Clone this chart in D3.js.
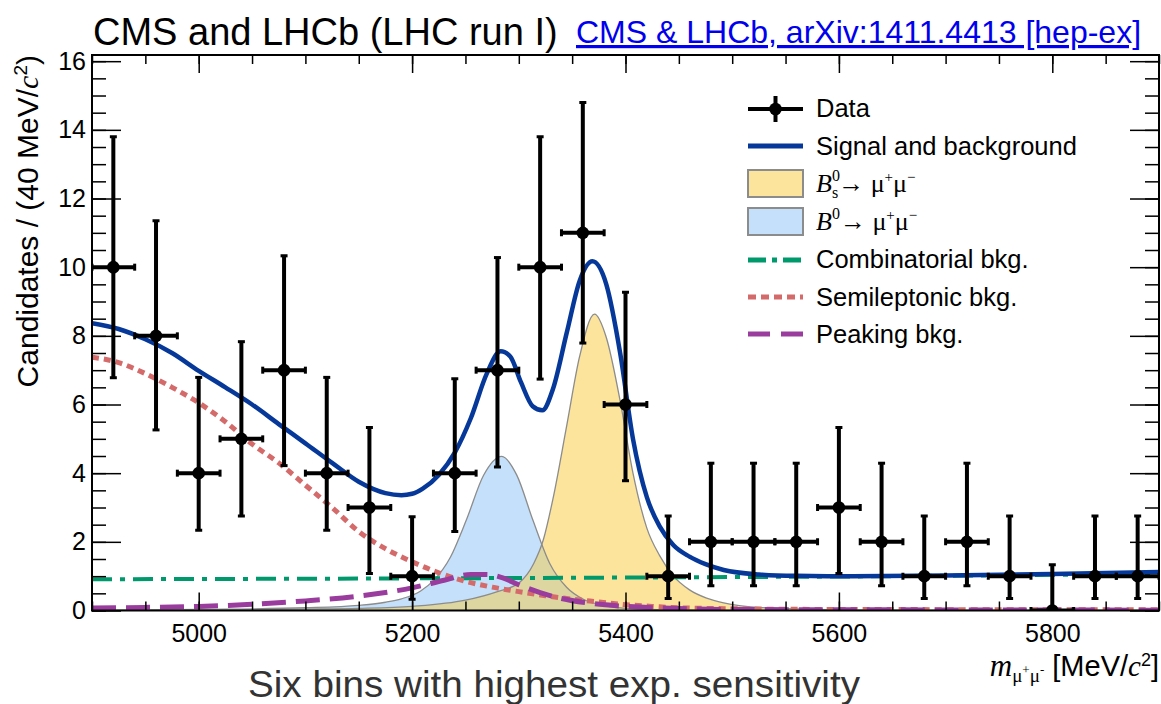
<!DOCTYPE html>
<html>
<head>
<meta charset="utf-8">
<script src="https://cdn.jsdelivr.net/npm/d3@7"></script>
<style>
  body { margin: 0; background: #fff; }
  svg { display: block; font-family: "Liberation Sans", Arial, sans-serif; }
</style>
</head>
<body>
<svg id="chart" width="1161" height="704"></svg>
<script>
// data points (40 MeV bins)
const binCenters = [4920, 4960, 5000, 5040, 5080, 5120, 5160, 5200, 5240, 5280, 5320, 5360, 5400,
    5440, 5480, 5520, 5560, 5600, 5640, 5680, 5720, 5760, 5800, 5840, 5880];
const candidates = [10, 8, 4, 5, 7, 4, 3, 1, 4, 7, 10, 11, 6, 1, 2, 2, 2, 3, 2, 1, 2, 1, 0, 1, 1];
const errLow = [6.78, 5.26, 2.34, 2.75, 4.22, 2.34, 1.08, 0.33, 2.3, 4.18, 6.74, 7.79, 3.78,
    0.35, 0.72, 0.72, 0.72, 1.08, 0.72, 0.35, 0.72, 0.35, 0, 0.35, 0.35];
const errHigh = [13.8, 11.35, 6.79, 7.83, 10.33, 6.79, 5.33, 2.73, 6.75, 10.28, 13.8, 14.8, 9.27,
    2.75, 4.29, 4.29, 4.29, 5.33, 4.29, 2.75, 4.29, 2.75, 1.33, 2.75, 2.75];

// fit curves
const totalMass = [4900, 4925, 4950, 4975, 5000, 5025, 5050, 5075, 5100, 5125, 5150, 5175, 5190, 5200,
    5210, 5225, 5240, 5255, 5270, 5283, 5292, 5302, 5313, 5322, 5332, 5345, 5357, 5369, 5382, 5395,
    5407, 5420, 5432, 5445, 5460, 5475, 5492, 5525, 5560, 5600, 5700, 5800, 5900];
const totalFit = [8.37, 8.2, 7.9, 7.5, 6.98, 6.5, 6.0, 5.43, 4.87, 4.3, 3.75, 3.42, 3.36, 3.4,
    3.55, 3.95, 4.6, 5.6, 6.9, 7.55, 7.4, 6.65, 5.95, 5.83, 6.45, 8.1, 9.6, 10.17, 9.5, 7.5,
    5.0, 3.3, 2.45, 1.9, 1.57, 1.35, 1.18, 1.05, 1.01, 1.0, 1.02, 1.06, 1.12];

const bsMass = [4900, 5000, 5100, 5150, 5200, 5250, 5280, 5300, 5314, 5323, 5332, 5345, 5357, 5371,
    5382, 5395, 5407, 5420, 5432, 5445, 5460, 5476, 5492, 5524, 5600, 5700, 5900];
const bsFit = [0.0, 0.01, 0.04, 0.06, 0.12, 0.3, 0.55, 0.8, 1.37, 2.06, 3.25, 5.4, 7.4, 8.63,
    7.95, 6.1, 4.0, 2.4, 1.6, 1.0, 0.6, 0.36, 0.22, 0.09, 0.02, 0.0, 0.0];

const bdMass = [4900, 5000, 5100, 5150, 5175, 5190, 5208, 5220, 5236, 5251, 5267, 5284, 5298, 5313,
    5329, 5345, 5361, 5376, 5407, 5450, 5500, 5900];
const bdFit = [0.0, 0.03, 0.08, 0.15, 0.24, 0.34, 0.57, 0.87, 1.56, 2.65, 3.94, 4.49, 3.95, 2.65,
    1.37, 0.67, 0.32, 0.17, 0.05, 0.02, 0.0, 0.0];

const combMass = [4900, 5150, 5400, 5650, 5900];
const combFit = [0.91, 0.93, 0.96, 1.0, 1.07];

const semiMass = [4900, 4925, 4950, 4975, 5000, 5025, 5050, 5075, 5100, 5125, 5150, 5175, 5200, 5225,
    5250, 5275, 5300, 5325, 5350, 5375, 5400, 5425, 5450, 5500, 5600, 5900];
const semiFit = [7.38, 7.22, 6.9, 6.5, 6.05, 5.5, 4.85, 4.3, 3.65, 3.0, 2.3, 1.8, 1.42, 1.1,
    0.85, 0.68, 0.55, 0.43, 0.33, 0.25, 0.17, 0.12, 0.08, 0.05, 0.03, 0.02];

const peakMass = [4900, 4950, 5000, 5050, 5100, 5150, 5200, 5230, 5255, 5270, 5285, 5300, 5320, 5340,
    5370, 5400, 5450, 5500, 5900];
const peakFit = [0.07, 0.09, 0.12, 0.18, 0.28, 0.42, 0.66, 0.88, 1.05, 1.05, 0.95, 0.75, 0.52, 0.35,
    0.2, 0.12, 0.06, 0.03, 0.01];

const xMajor = [5000, 5200, 5400, 5600, 5800];
const yMajor = [0, 2, 4, 6, 8, 10, 12, 14, 16];

const svg = d3.select("#chart");
const pL = 92, pR = 1159, pT = 55, pB = 610.5;

const x = d3.scaleLinear().domain([4900, 5900]).range([pL, pR]);
const y = d3.scaleLinear().domain([0, 16.18]).range([pB, pT]);

svg.append("clipPath").attr("id", "plotClip")
    .append("rect").attr("x", pL).attr("y", pT).attr("width", pR - pL).attr("height", pB - pT);

const pairs = (xs, ys) => xs.map((m, i) => [m, ys[i]]);
const line = d3.line().x(d => x(d[0])).y(d => y(d[1])).curve(d3.curveMonotoneX);
const area = d3.area().x(d => x(d[0])).y0(y(0)).y1(d => y(d[1])).curve(d3.curveMonotoneX);

const plot = svg.append("g").attr("clip-path", "url(#plotClip)");

// filled signal shapes
svg.append("clipPath").attr("id", "bdClip")
    .append("path").attr("d", area(pairs(bdMass, bdFit)));
plot.append("path").attr("d", area(pairs(bdMass, bdFit))).attr("fill", "#c4e0fb");
plot.append("path").attr("d", area(pairs(bsMass, bsFit))).attr("fill", "#fde49c");
plot.append("path").attr("d", area(pairs(bsMass, bsFit))).attr("fill", "#ddd6a0")
    .attr("clip-path", "url(#bdClip)");
plot.append("path").attr("d", line(pairs(bdMass, bdFit))).attr("fill", "none")
    .attr("stroke", "#8c8c8c").attr("stroke-width", 1.3);
plot.append("path").attr("d", line(pairs(bsMass, bsFit))).attr("fill", "none")
    .attr("stroke", "#8c8c8c").attr("stroke-width", 1.3);

// background components
plot.append("path").attr("d", line(pairs(combMass, combFit))).attr("fill", "none")
    .attr("stroke", "#00996b").attr("stroke-width", 4).attr("stroke-dasharray", "20,8,5,8");
plot.append("path").attr("d", line(pairs(semiMass, semiFit))).attr("fill", "none")
    .attr("stroke", "#d46a6a").attr("stroke-width", 5).attr("stroke-dasharray", "7,5");
plot.append("path").attr("d", line(pairs(peakMass, peakFit))).attr("fill", "none")
    .attr("stroke", "#9a3c9e").attr("stroke-width", 5).attr("stroke-dasharray", "24,10");
plot.append("path").attr("d", line(pairs(totalMass, totalFit))).attr("fill", "none")
    .attr("stroke", "#06389a").attr("stroke-width", 4.5);

// data with error bars
const pts = binCenters.map((m, i) => ({ m, n: candidates[i], lo: errLow[i], hi: errHigh[i] }));
const dg = plot.append("g").attr("stroke", "#000").attr("stroke-width", 4);
dg.selectAll(".ev").data(pts).join("line")
    .attr("x1", d => x(d.m)).attr("x2", d => x(d.m))
    .attr("y1", d => y(d.lo)).attr("y2", d => y(d.hi));
dg.selectAll(".eh").data(pts).join("line")
    .attr("x1", d => x(d.m - 20)).attr("x2", d => x(d.m + 20))
    .attr("y1", d => y(d.n)).attr("y2", d => y(d.n));
const caps = [];
pts.forEach(d => {
    caps.push([x(d.m) - 3.5, y(d.lo), x(d.m) + 3.5, y(d.lo)]);
    caps.push([x(d.m) - 3.5, y(d.hi), x(d.m) + 3.5, y(d.hi)]);
    caps.push([x(d.m - 20), y(d.n) - 3.5, x(d.m - 20), y(d.n) + 3.5]);
    caps.push([x(d.m + 20), y(d.n) - 3.5, x(d.m + 20), y(d.n) + 3.5]);
});
dg.selectAll(".cap").data(caps).join("line")
    .attr("x1", d => d[0]).attr("y1", d => d[1]).attr("x2", d => d[2]).attr("y2", d => d[3])
    .attr("stroke-width", 3);
plot.selectAll(".pt").data(pts).join("circle")
    .attr("cx", d => x(d.m)).attr("cy", d => y(d.n)).attr("r", 6.3).attr("fill", "#000");

// axes, ticks inside the frame
const tickStyle = g => {
    g.select(".domain").remove();
    g.selectAll("line").attr("stroke", "#000").attr("stroke-width", 1.5);
};
svg.append("g").attr("transform", `translate(0,${pB})`)
    .call(d3.axisBottom(x).tickValues(d3.range(4900, 5901, 50)).tickSize(-9).tickFormat(""))
    .call(tickStyle);
svg.append("g").attr("transform", `translate(0,${pB})`)
    .call(d3.axisBottom(x).tickValues(xMajor).tickSize(-18).tickPadding(14).tickFormat(d3.format("d")))
    .call(tickStyle)
    .selectAll("text").attr("font-size", 25).attr("font-family", "Liberation Sans, Arial, sans-serif").attr("fill", "#000");
svg.append("g").attr("transform", `translate(0,${pT})`)
    .call(d3.axisTop(x).tickValues(d3.range(4900, 5901, 50)).tickSize(-9).tickFormat(""))
    .call(tickStyle);
svg.append("g").attr("transform", `translate(0,${pT})`)
    .call(d3.axisTop(x).tickValues(xMajor).tickSize(-18).tickFormat(""))
    .call(tickStyle);

svg.append("g").attr("transform", `translate(${pL},0)`)
    .call(d3.axisLeft(y).tickValues(d3.range(0, 16.01, 0.5)).tickSize(-14).tickFormat(""))
    .call(tickStyle);
svg.append("g").attr("transform", `translate(${pL},0)`)
    .call(d3.axisLeft(y).tickValues(yMajor).tickSize(-29).tickPadding(6))
    .call(tickStyle)
    .selectAll("text").attr("font-size", 25).attr("font-family", "Liberation Sans, Arial, sans-serif").attr("fill", "#000");
svg.append("g").attr("transform", `translate(${pR},0)`)
    .call(d3.axisRight(y).tickValues(d3.range(0, 16.01, 0.5)).tickSize(-14).tickFormat(""))
    .call(tickStyle);
svg.append("g").attr("transform", `translate(${pR},0)`)
    .call(d3.axisRight(y).tickValues(yMajor).tickSize(-29).tickFormat(""))
    .call(tickStyle);

svg.append("rect").attr("x", pL).attr("y", pT).attr("width", pR - pL).attr("height", pB - pT)
    .attr("fill", "none").attr("stroke", "#000").attr("stroke-width", 2);

// titles
svg.append("text").attr("x", 93).attr("y", 45).attr("font-size", 38).text("CMS and LHCb (LHC run I)");
svg.append("text").attr("x", 576).attr("y", 43).attr("font-size", 32).attr("fill", "#0000ee")
    .attr("text-decoration", "underline").text("CMS & LHCb, arXiv:1411.4413 [hep-ex]");

const yl = svg.append("text").attr("transform", "translate(38,55) rotate(-90)")
    .attr("text-anchor", "end").attr("font-size", 30);
yl.append("tspan").text("Candidates / (40 MeV/");
yl.append("tspan").attr("font-family", "Liberation Serif, serif").attr("font-style", "italic").text("c");
yl.append("tspan").attr("font-size", 19).attr("dy", -11).text("2");
yl.append("tspan").attr("dy", 11).text(")");

const xl = svg.append("text").attr("x", 1159).attr("y", 676).attr("text-anchor", "end").attr("font-size", 29);
xl.append("tspan").attr("font-family", "Liberation Serif, serif").attr("font-style", "italic").attr("font-size", 31).text("m");
xl.append("tspan").attr("font-family", "Liberation Serif, serif").attr("font-size", 19).attr("dy", 6).text("μ");
xl.append("tspan").attr("font-family", "Liberation Serif, serif").attr("font-size", 13).attr("dy", -8).text("+");
xl.append("tspan").attr("font-family", "Liberation Serif, serif").attr("font-size", 19).attr("dy", 8).text("μ");
xl.append("tspan").attr("font-family", "Liberation Serif, serif").attr("font-size", 13).attr("dy", -8).text("-");
xl.append("tspan").attr("dy", 2).text(" [MeV/");
xl.append("tspan").attr("font-family", "Liberation Serif, serif").attr("font-style", "italic").text("c");
xl.append("tspan").attr("font-size", 18).attr("dy", -10).text("2");
xl.append("tspan").attr("dy", 10).text("]");

svg.append("text").attr("x", 554).attr("y", 697).attr("text-anchor", "middle").attr("font-size", 37)
    .attr("textLength", 612).attr("lengthAdjust", "spacingAndGlyphs")
    .attr("fill", "#333").text("Six bins with highest exp. sensitivity");

// legend
const lg = svg.append("g").attr("font-size", 25.5);
const lx0 = 748, lx1 = 803, tx = 816;
lg.append("line").attr("x1", lx0).attr("x2", lx1).attr("y1", 109).attr("y2", 109).attr("stroke", "#000").attr("stroke-width", 4);
lg.append("line").attr("x1", 775.5).attr("x2", 775.5).attr("y1", 96).attr("y2", 122).attr("stroke", "#000").attr("stroke-width", 4);
lg.append("circle").attr("cx", 775.5).attr("cy", 109).attr("r", 6.3);
lg.append("text").attr("x", tx).attr("y", 117).text("Data");
lg.append("line").attr("x1", lx0).attr("x2", lx1).attr("y1", 146).attr("y2", 146).attr("stroke", "#06389a").attr("stroke-width", 5);
lg.append("text").attr("x", tx).attr("y", 155).text("Signal and background");
lg.append("rect").attr("x", lx0).attr("y", 170).attr("width", lx1 - lx0).attr("height", 27)
    .attr("fill", "#fde49c").attr("stroke", "#8c8c8c").attr("stroke-width", 2);
lg.append("rect").attr("x", lx0).attr("y", 208).attr("width", lx1 - lx0).attr("height", 27)
    .attr("fill", "#c4e0fb").attr("stroke", "#8c8c8c").attr("stroke-width", 2);
const mathLabel = (yy, withS) => {
    const t = lg.append("text").attr("x", tx).attr("y", yy).attr("font-family", "Liberation Serif, serif").attr("font-size", 26);
    t.append("tspan").attr("font-style", "italic").text("B");
    t.append("tspan").attr("font-size", 16).attr("dy", -11).text("0");
    if (withS) {
        t.append("tspan").attr("font-size", 16).attr("dx", -8).attr("dy", 17).text("s");
        t.append("tspan").attr("dy", -6).text("→ μ");
    } else {
        t.append("tspan").attr("dy", 11).text("→ μ");
    }
    t.append("tspan").attr("font-size", 15).attr("dy", -10).text("+");
    t.append("tspan").attr("dy", 10).text("μ");
    t.append("tspan").attr("font-size", 15).attr("dy", -10).text("−");
};
mathLabel(192, true);
mathLabel(230, false);
lg.append("line").attr("x1", lx0).attr("x2", lx1).attr("y1", 260).attr("y2", 260).attr("stroke", "#00996b").attr("stroke-width", 5).attr("stroke-dasharray", "18,6,5,6");
lg.append("text").attr("x", tx).attr("y", 268).text("Combinatorial bkg.");
lg.append("line").attr("x1", lx0).attr("x2", lx1).attr("y1", 297).attr("y2", 297).attr("stroke", "#d46a6a").attr("stroke-width", 5).attr("stroke-dasharray", "8,5");
lg.append("text").attr("x", tx).attr("y", 306).text("Semileptonic bkg.");
lg.append("line").attr("x1", lx0).attr("x2", lx1).attr("y1", 334).attr("y2", 334).attr("stroke", "#9a3c9e").attr("stroke-width", 5).attr("stroke-dasharray", "22,11");
lg.append("text").attr("x", tx).attr("y", 343).text("Peaking bkg.");
</script>
</body>
</html>
